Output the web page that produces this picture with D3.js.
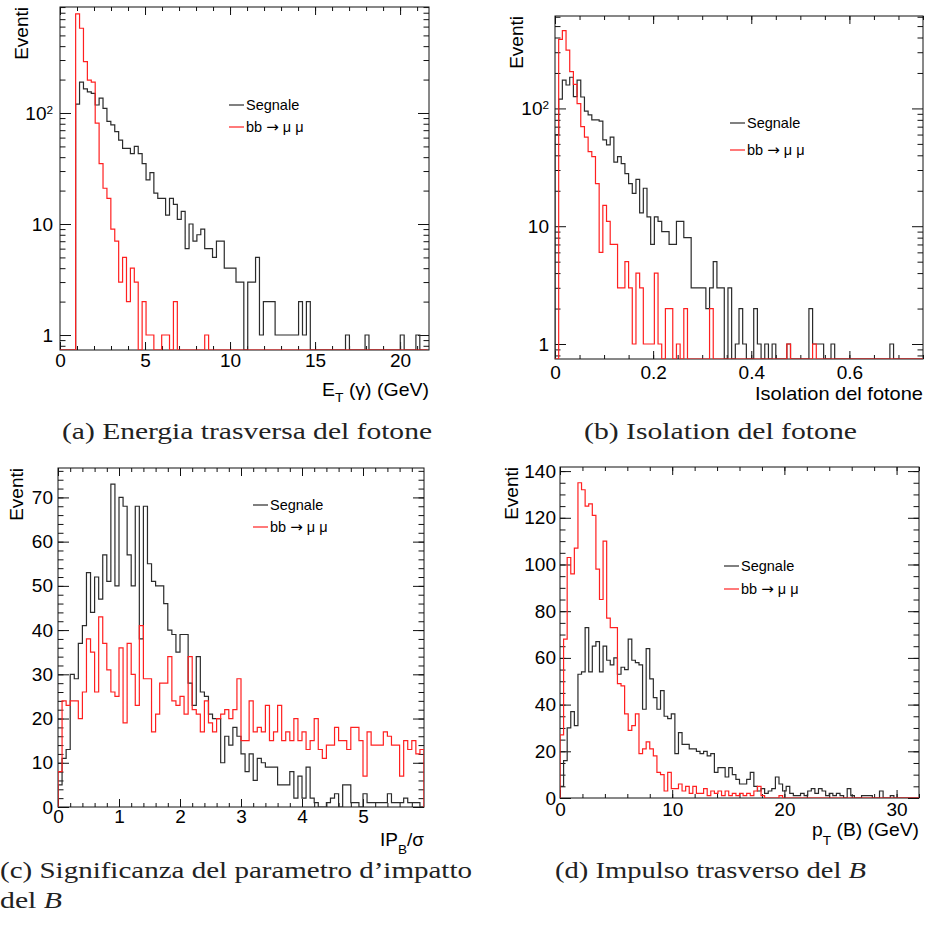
<!DOCTYPE html>
<html>
<head>
<meta charset="utf-8">
<script src="https://cdn.jsdelivr.net/npm/d3@7"></script>
<style>
  body { margin: 0; background: #fff; }
  svg { display: block; }
</style>
</head>
<body>
<div id="chart"></div>
<script>
// ---- data (bin contents, left to right) ----

// (a) E_T(gamma), bins of 0.23 GeV
var binWidthA = 0.23;
var sigA = [0,0,0,0,120,190,165,155,150,118, 136,110,84,78,68,57,48,48,43,50,
            43,35,25,29,19,17,17,12,17,15, 11,13,6,10,7,8,9,6,6,5,
            7,7,4,4,4,3,3,0,3,3, 5,1,2,2,2,1,1,1,1,1,
            1,2,1,2,0,0,0,0,0,0, 0,0,0,1,0,0,0,0,1,0,
            0,0,0,0,0,0,0,1,0,0, 0,1,0,0];
var bkgA = [0,0,0,0,780,580,290,198,190,81, 35,21,17,9,7,3,5,2,4,3,
            0,2,1,1,0,0,1,1,0,2, 0,0,0,0,0,0,0,1,0,0,
            0,0,0,0,0,0,0,0,0,0, 0,0,0,0,0,0,0,0,0,0,
            0,0,0,0,0,0,0,0,0,0, 0,0,0,0,0,0,0,0,0,0,
            0,0,0,0,0,0,0,0,0,0, 0,0,0,0];

// (b) photon isolation, bins of 0.0075
var binWidthB = 0.0075;
var sigB = [60,120,174,158,184,126,174,125,95,88, 80,80,78,54,49,57,35,39,34,28,
            23,19,25,13,21,12,7,12,11,9, 9,7,7,11,11,8,8,3,3,3,
            3,2,3,5,3,3,0,3,0,1, 2,1,0,0,2,1,0,1,0,1,
            0,0,0,1,0,0,0,0,0,2, 1,1,1,0,0,1,0,0,0,0,
            0,0,0,0,0,0,0,0,0,0, 0,1,0,0,0,0,0,0,0,0];
var bkgB = [0,386,457,313,205,160,110,70,57,43, 39,23,6,15,11,7,7,3,3,5,
            3,1,4,3,1,1,1,4,1,0, 2,2,0,1,0,2,0,0,0,0,
            0,0,2,0,0,0,0,0,0,0, 0,0,0,0,0,0,0,0,0,0,
            0,0,0,1,0,0,0,0,0,0, 1,0,0,0,0,0,0,0,0,0,
            0,0,0,0,0,0,0,0,0,0, 0,0,0,0,0,0,0,0,0,0];

// (c) IP_B / sigma, bins of 1/15
var binWidthC = 1 / 15;
var sigC = [5,11,13,30,29,37,41,53,44,52, 47,57,51,73,50,70,68,57,50,68,
            38,68,55,51,50,50,46,40,39,35, 39,39,28,23,34,26,25,21,20,20,
            10,16,14,18,16,12,8,12,6,11, 10,9,9,9,5,5,5,8,2,7,
            2,9,2,1,0,0,1,2,3,0, 5,5,1,1,0,3,1,1,1,1,
            1,3,1,1,1,2,1,1,1,0];
var bkgC = [8,24,23,24,24,20,26,38,35,26, 43,37,31,26,25,36,19,37,30,23,
            41,29,29,17,21,28,28,34,24,23, 25,21,34,22,21,17,24,19,17,20,
            21,22,20,22,29,15,15,24,17,18, 17,23,15,17,23,15,17,15,20,15,
            17,13,15,20,13,11,14,14,18,15, 15,13,18,18,15,7,17,14,14,14,
            17,16,14,14,7,15,13,15,12,13];

// (d) p_T(B), bins of 0.32 GeV
var binWidthD = 0.32;
var sigD = [5,16,30,37,31,53,54,73,54,65, 67,54,65,59,57,60,53,56,55,68,
            59,58,57,38,64,51,43,38,46,35, 34,36,19,28,23,23,21,21,20,19,
            20,18,19,11,13,13,9,13,10,8, 6,6,8,11,5,3,4,2,3,4,
            9,6,3,5,2,1,1,2,1,3, 4,2,4,3,1,2,1,2,1,0,
            4,1,0,0,1,1,1,0,0,3, 0,0,1,0,0,0,0,0,0,0];
var bkgD = [27,68,103,96,107,135,132,125,126,121, 98,85,110,77,73,73,49,48,36,29,
            31,36,19,21,24,21,18,11,10,3, 11,4,4,6,3,5,2,5,2,2,
            4,1,3,2,3,1,3,1,2,1, 2,1,2,1,3,5,1,0,0,0,
            0,1,0,0,0,0,0,0,0,0, 0,0,0,0,0,0,0,0,0,0,
            0,0,0,0,0,0,0,0,0,0, 0,0,0,0,0,0,0,0,0,0];

// legend entries: [text, arrow, text]
var legendLabels = [["Segnale"], ["bb ", "\u2192", " \u03bc \u03bc"]];
var yTitle = "Eventi";

// ---- layout ----
var sans = "'Liberation Sans', Arial, Helvetica, sans-serif";
var serif = "'Liberation Serif', 'Times New Roman', serif";
var black = "#2b2b2b", red = "#ff2020";

function logMinors(lo, hi) {
  var out = [];
  [0.1, 1, 10, 100].forEach(function(d) {
    for (var m = 2; m <= 9; m++) { var v = m * d; if (v >= lo && v <= hi) out.push(v); }
  });
  return out;
}
function intFmt(v) { return String(v); }

var panels = [
  { sig: sigA, bkg: bkgA, binW: binWidthA, log: true,
    box: {l: 60, r: 429, t: 7, b: 350}, xDom: [0, 21.7], yDom: [0.733, 901],
    xMajor: [0, 5, 10, 15, 20], xMinor: d3.range(0, 22, 1), xFmt: intFmt, xPad: 4,
    yMajor: [1, 10, 100], yMinor: logMinors(0.733, 901), yPad: 7,
    eventiX: 28, leg: {x: 229, y: 105, dy: 22},
    title: {x: 429, y: 396, len: 107, parts: [["E"], ["T", 6], [" (\u03b3) (GeV)"]]} },
  { sig: sigB, bkg: bkgB, binW: binWidthB, log: true,
    box: {l: 555, r: 923, t: 16, b: 359}, xDom: [0, 0.75], yDom: [0.746, 609],
    xMajor: [0, 0.2, 0.4, 0.6], xMinor: d3.range(0, 16).map(function(i) { return i * 0.05; }),
    xFmt: function(v) { return v === 0 ? "0" : d3.format(".1f")(v); }, xPad: 7,
    yMajor: [1, 10, 100], yMinor: logMinors(0.746, 609), yPad: 6,
    eventiX: 523, leg: {x: 730, y: 123, dy: 27},
    title: {x: 923, y: 400, len: 168, parts: [["Isolation del fotone"]]} },
  { sig: sigC, bkg: bkgC, binW: binWidthC, log: false,
    box: {l: 58, r: 424, t: 468, b: 807}, xDom: [0, 6], yDom: [0, 76.65],
    xMajor: [0, 1, 2, 3, 4, 5], xMinor: d3.range(0, 30).map(function(i) { return i * 0.2; }), xFmt: intFmt, xPad: 2,
    yMajor: d3.range(0, 71, 10), yMinor: d3.range(0, 77, 2), yPad: 5,
    eventiX: 23, leg: {x: 253, y: 505, dy: 22},
    title: {x: 424, y: 846, len: 44, parts: [["IP"], ["B", 8], ["/\u03c3"]]} },
  { sig: sigD, bkg: bkgD, binW: binWidthD, log: false,
    box: {l: 560, r: 919, t: 467, b: 798}, xDom: [0, 32], yDom: [0, 141.75],
    xMajor: [0, 10, 20, 30], xMinor: d3.range(0, 33, 2), xFmt: intFmt, xPad: 5,
    yMajor: d3.range(0, 141, 20), yMinor: d3.range(0, 141, 5), yPad: 4,
    eventiX: 518, leg: {x: 724, y: 566, dy: 23},
    title: {x: 919, y: 836, len: 107, parts: [["p"], ["T", 9], [" (B) (GeV)"]]} }
];

var captions = [
  {x: 62, y: 439, len: 370, parts: [["(a) Energia trasversa del fotone"]]},
  {x: 584, y: 439, len: 273, parts: [["(b) Isolation del fotone"]]},
  {x: 0, y: 878, len: 472, parts: [["(c) Significanza del parametro d\u2019impatto"]]},
  {x: 0, y: 908, len: 62, parts: [["del "], ["B", "i"]]},
  {x: 555, y: 878, len: 311, parts: [["(d) Impulso trasverso del "], ["B", "i"]]}
];

var svg = d3.select("#chart").append("svg").attr("width", 925).attr("height", 930);

function styleAxis(g, size) {
  g.attr("font-size", size).attr("font-family", sans).attr("color", "#111");
  g.select(".domain").remove();
  g.selectAll(".tick line").attr("stroke-width", 1);
}

panels.forEach(function(p, pi) {
  var B = p.box;
  var x = d3.scaleLinear().domain(p.xDom).range([B.l, B.r]);
  var y = (p.log ? d3.scaleLog() : d3.scaleLinear()).domain(p.yDom).range([B.b, B.t]);
  var g = svg.append("g");

  // frame
  g.append("rect").attr("x", B.l).attr("y", B.t).attr("width", B.r - B.l).attr("height", B.b - B.t)
    .attr("fill", "none").attr("stroke", "#111").attr("stroke-width", 1);

  // ticks on all four sides, pointing inwards
  var none = function() { return ""; };
  styleAxis(g.append("g").attr("transform", "translate(0," + B.b + ")")
    .call(d3.axisBottom(x).tickValues(p.xMinor).tickSize(-4).tickFormat(none)), 19);
  var gbM = g.append("g").attr("transform", "translate(0," + B.b + ")")
    .call(d3.axisBottom(x).tickValues(p.xMajor).tickSize(-8).tickPadding(p.xPad).tickFormat(p.xFmt));
  styleAxis(gbM, 19);
  gbM.selectAll("text").attr("fill", "#000");
  styleAxis(g.append("g").attr("transform", "translate(0," + B.t + ")")
    .call(d3.axisTop(x).tickValues(p.xMinor).tickSize(-4).tickFormat(none)), 19);
  styleAxis(g.append("g").attr("transform", "translate(0," + B.t + ")")
    .call(d3.axisTop(x).tickValues(p.xMajor).tickSize(-8).tickFormat(none)), 19);

  styleAxis(g.append("g").attr("transform", "translate(" + B.l + ",0)")
    .call(d3.axisLeft(y).tickValues(p.yMinor).tickSize(-5.5).tickFormat(none)), 19);
  var glM = g.append("g").attr("transform", "translate(" + B.l + ",0)")
    .call(d3.axisLeft(y).tickValues(p.yMajor).tickSize(-11).tickPadding(p.yPad).tickFormat(intFmt));
  styleAxis(glM, 19);
  glM.selectAll("text").attr("fill", "#000").each(function(d) {
    if (p.log && d === 100) {
      var t = d3.select(this).text("10");
      t.append("tspan").attr("dy", "-0.5em").attr("font-size", "0.62em").text("2");
    }
  });
  styleAxis(g.append("g").attr("transform", "translate(" + B.r + ",0)")
    .call(d3.axisRight(y).tickValues(p.yMinor).tickSize(-5.5).tickFormat(none)), 19);
  styleAxis(g.append("g").attr("transform", "translate(" + B.r + ",0)")
    .call(d3.axisRight(y).tickValues(p.yMajor).tickSize(-11).tickFormat(none)), 19);

  // histograms
  var floorV = p.yDom[0];
  function outline(vals) {
    var pts = [[0, floorV]];
    vals.forEach(function(v, i) {
      var vv = v > floorV ? v : floorV;
      pts.push([i * p.binW, vv]);
      pts.push([(i + 1) * p.binW, vv]);
    });
    pts.push([vals.length * p.binW, floorV]);
    return pts;
  }
  var line = d3.line().x(function(d) { return x(d[0]); }).y(function(d) { return y(d[1]); });
  var clipId = "clip" + pi;
  g.append("clipPath").attr("id", clipId).append("rect")
    .attr("x", B.l).attr("y", B.t - 1).attr("width", B.r - B.l).attr("height", B.b - B.t + 1);
  var hg = g.append("g").attr("clip-path", "url(#" + clipId + ")");
  hg.append("path").attr("d", line(outline(p.sig))).attr("fill", "none")
    .attr("stroke", black).attr("stroke-width", 1.2);
  hg.append("path").attr("d", line(outline(p.bkg))).attr("fill", "none")
    .attr("stroke", red).attr("stroke-width", 1.2);

  // legend
  [black, red].forEach(function(c, i) {
    var ly = p.leg.y + i * p.leg.dy;
    g.append("line").attr("x1", p.leg.x).attr("x2", p.leg.x + 15).attr("y1", ly).attr("y2", ly)
      .attr("stroke", c).attr("stroke-width", 1.2);
    var lt = g.append("text").attr("x", p.leg.x + 17).attr("y", ly + 5)
      .attr("font-family", sans).attr("font-size", 14.5).attr("fill", "#000");
    legendLabels[i].forEach(function(s, k) {
      var sp = lt.append("tspan").text(s);
      if (k === 1) sp.attr("font-family", "'DejaVu Sans', sans-serif").attr("font-size", 15);
    });
  });

  // y title
  g.append("text").attr("transform", "translate(" + p.eventiX + "," + B.t + ") rotate(-90)")
    .attr("text-anchor", "end").attr("font-family", sans).attr("font-size", 19).attr("fill", "#000")
    .text(yTitle);

  // x title
  var tt = g.append("text").attr("x", p.title.x).attr("y", p.title.y).attr("text-anchor", "end")
    .attr("font-family", sans).attr("font-size", 19).attr("fill", "#000")
    .attr("textLength", p.title.len).attr("lengthAdjust", "spacingAndGlyphs");
  var shift = 0;
  p.title.parts.forEach(function(part) {
    var s = tt.append("tspan").text(part[0]);
    if (part[1]) { s.attr("dy", part[1]).attr("font-size", 13.5); shift = part[1]; }
    else if (shift) { s.attr("dy", -shift); shift = 0; }
  });
});

// sub-figure captions
captions.forEach(function(c) {
  var t = svg.append("text").attr("x", c.x).attr("y", c.y)
    .attr("font-family", serif).attr("font-size", 23).attr("fill", "#222")
    .attr("textLength", c.len).attr("lengthAdjust", "spacingAndGlyphs");
  c.parts.forEach(function(part) {
    var s = t.append("tspan").text(part[0]);
    if (part[1] === "i") s.attr("font-style", "italic");
  });
});
</script>
</body>
</html>
